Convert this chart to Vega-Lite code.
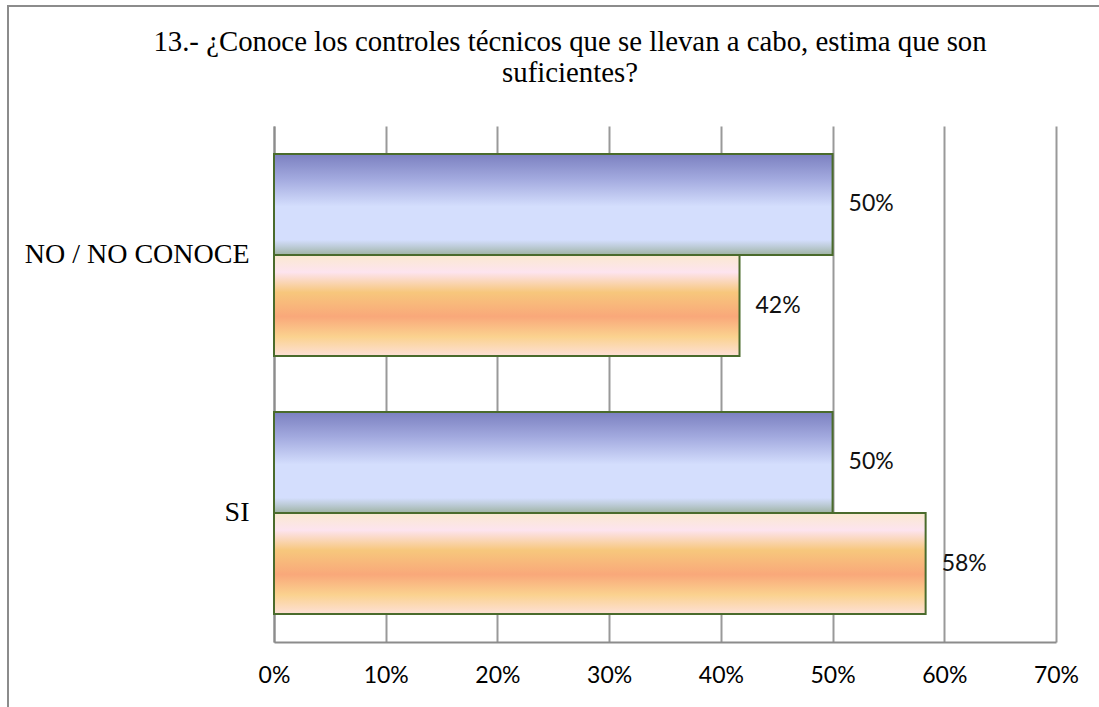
{
  "$schema": "https://vega.github.io/schema/vega-lite/v6.json",
  "autosize": {"type": "none"},
  "padding": {"left": 8, "top": 6, "right": 0, "bottom": 0},
  "width": 1200,
  "height": 702,
  "background": "white",
  "title": {
    "text": ["13.- ¿Conoce los controles técnicos que se llevan a cabo, estima que son", "suficientes?"],
    "anchor": "middle",
    "frame": "group",
    "baseline": "top",
    "offset": -82,
    "dx": -38,
    "lineHeight": 31,
    "font": "Liberation Serif",
    "fontSize": 28.8,
    "fontWeight": "normal",
    "color": "#000000"
  },
  "data": {
    "values": [
      {"pregunta": "NO / NO CONOCE", "serie": "A", "valor": 0.5},
      {"pregunta": "NO / NO CONOCE", "serie": "B", "valor": 0.4167},
      {"pregunta": "SI", "serie": "A", "valor": 0.5},
      {"pregunta": "SI", "serie": "B", "valor": 0.5833}
    ]
  },
  "encoding": {
    "y": {
      "field": "pregunta",
      "type": "nominal",
      "sort": ["NO / NO CONOCE", "SI"],
      "scale": {"range": [120, 636], "paddingInner": 0.217, "paddingOuter": 0.1085},
      "axis": {
        "title": null,
        "orient": "left",
        "offset": -266,
        "ticks": false,
        "grid": false,
        "domainColor": "#8c8c8c",
        "domainWidth": 2,
        "labelFont": "Liberation Serif",
        "labelFontSize": 28,
        "labelColor": "#000000",
        "labelPadding": 25,
        "labelLimit": 0
      }
    },
    "yOffset": {
      "field": "serie",
      "type": "nominal",
      "scale": {"domain": ["A", "B"], "paddingInner": 0, "paddingOuter": 0}
    }
  },
  "layer": [
    {
      "transform": [{"filter": "datum.serie === 'A'"}],
      "mark": {
        "type": "bar",
        "stroke": "#4a6b2c",
        "strokeWidth": 2,
        "color": {
          "gradient": "linear",
          "x1": 0, "y1": 0, "x2": 0, "y2": 1,
          "stops": [
            {"offset": 0, "color": "#7b80c0"},
            {"offset": 0.25, "color": "#a3aadf"},
            {"offset": 0.52, "color": "#d4defd"},
            {"offset": 0.85, "color": "#d4defd"},
            {"offset": 0.92, "color": "#bccbd6"},
            {"offset": 1, "color": "#9fb3a4"}
          ]
        }
      },
      "encoding": {
        "x": {
          "field": "valor",
          "type": "quantitative",
          "scale": {"domain": [0, 0.7], "range": [266, 1048], "nice": false},
          "axis": {
            "title": null,
            "orient": "bottom",
            "offset": -66,
            "values": [0, 0.1, 0.2, 0.3, 0.4, 0.5, 0.6, 0.7],
            "format": ".0%",
            "ticks": false,
            "grid": false,
            "domainColor": "#8c8c8c",
            "domainWidth": 2,
            "labelFont": "Lato",
            "labelFontSize": 23,
            "labelColor": "#000000",
            "labelPadding": 22,
            "labelFlush": false,
            "labelOverlap": false
          }
        }
      }
    },
    {
      "transform": [{"filter": "datum.serie === 'B'"}],
      "mark": {
        "type": "bar",
        "stroke": "#4a6b2c",
        "strokeWidth": 2,
        "color": {
          "gradient": "linear",
          "x1": 0, "y1": 0, "x2": 0, "y2": 1,
          "stops": [
            {"offset": 0, "color": "#fae9d0"},
            {"offset": 0.17, "color": "#fde4ef"},
            {"offset": 0.37, "color": "#f7c77c"},
            {"offset": 0.61, "color": "#f9a87a"},
            {"offset": 0.81, "color": "#fbd28f"},
            {"offset": 1, "color": "#fde0d6"}
          ]
        }
      },
      "encoding": {
        "x": {
          "field": "valor",
          "type": "quantitative",
          "scale": {"domain": [0, 0.7], "range": [266, 1048], "nice": false},
          "axis": {
            "title": null,
            "orient": "top",
            "values": [0, 0.1, 0.2, 0.3, 0.4, 0.5, 0.6, 0.7],
            "ticks": false,
            "labels": false,
            "domain": false,
            "grid": true,
            "gridColor": "#999999",
            "gridWidth": 2
          }
        }
      }
    },
    {
      "mark": {
        "type": "text",
        "align": "left",
        "baseline": "middle",
        "dx": 16,
        "font": "Lato",
        "fontSize": 23,
        "color": "#111111"
      },
      "encoding": {
        "x": {
          "field": "valor",
          "type": "quantitative",
          "scale": {"domain": [0, 0.7], "range": [266, 1048], "nice": false},
          "axis": null
        },
        "text": {"field": "valor", "type": "quantitative", "format": ".0%"}
      }
    }
  ],
  "resolve": {"axis": {"x": "independent"}},
  "config": {
    "font": "Liberation Serif",
    "view": {"stroke": "#8c8c8c", "strokeWidth": 2, "fill": "white"},
    "title": {"font": "Liberation Serif", "fontWeight": "normal"},
    "style": {"group-title": {"font": "Liberation Serif", "fontWeight": "normal"}}
  }
}
